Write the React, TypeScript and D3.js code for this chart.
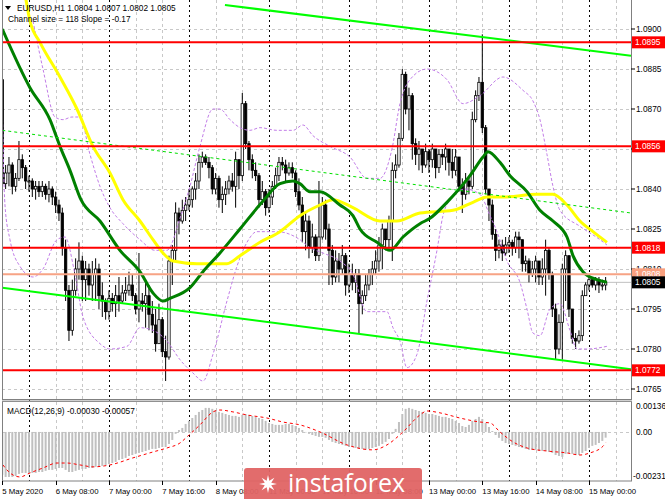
import React from "react";
import * as d3 from "d3";

type P = [number, number];

const FONT = "'Liberation Sans', Arial, sans-serif";

const priceTicks = [1.09, 1.0885, 1.087, 1.0855, 1.084, 1.0825, 1.081, 1.0795, 1.078, 1.0765];
const hiddenTickLabels = [1.0855];
const redLevels = [1.0895, 1.0856, 1.0818, 1.0772];
const orangeLevel = 1.0808;
const bidLevel = 1.0805;
const macdTickLabels = ["0.00136", "0.00", "-0.00231"];
const macdTickValues = [0.00136, 0, -0.00231];
const timeLabels = ["5 May 2020", "6 May 08:00", "7 May 00:00", "7 May 16:00", "8 May 08:00", "11 May 00:00", "11 May 16:00", "12 May 08:00", "13 May 00:00", "13 May 16:00", "14 May 08:00", "15 May 00:00"];
const timeLabelIdx = [0, 16, 32, 48, 64, 80, 96, 112, 128, 144, 160, 176];
const daySeparators = [8, 32, 56, 80, 104, 128, 152, 176];

const firstOpen = 1.0881;
const closes = [
  1.0842, 1.0846, 1.0849, 1.0841, 1.0844, 1.0851, 1.0848, 1.0843, 1.0843, 1.0840,
  1.0841, 1.0839, 1.0841, 1.0838, 1.0840, 1.0837, 1.0834, 1.0831, 1.0818, 1.0802,
  1.0787, 1.0802, 1.0810, 1.0813, 1.0806, 1.0810, 1.0804, 1.0808, 1.0810, 1.0800,
  1.0798, 1.0794, 1.0799, 1.0797, 1.0800, 1.0798, 1.0801, 1.0802, 1.0804, 1.0800,
  1.0795, 1.0798, 1.0797, 1.0800, 1.0793, 1.0789, 1.0782, 1.0791, 1.0779, 1.0777,
  1.0813, 1.0817, 1.0831, 1.0828, 1.0832, 1.0834, 1.0836, 1.0840, 1.0843, 1.0850,
  1.0852, 1.0850, 1.0848, 1.0840, 1.0844, 1.0836, 1.0838, 1.0840, 1.0843, 1.0841,
  1.0851, 1.0845, 1.0872, 1.0857, 1.0851, 1.0847, 1.0845, 1.0836, 1.0839, 1.0833,
  1.0837, 1.0841, 1.0845, 1.0850, 1.0849, 1.0846, 1.0848, 1.0846, 1.0839, 1.0834,
  1.0824, 1.0828, 1.0818, 1.0822, 1.0815, 1.0822, 1.0834, 1.0825, 1.0817, 1.0807,
  1.0813, 1.0810, 1.0815, 1.0804, 1.0808, 1.0805, 1.0808, 1.0797, 1.0800, 1.0804,
  1.0808, 1.0810, 1.0813, 1.0819, 1.0825, 1.0821, 1.0828, 1.0847, 1.0849, 1.0859,
  1.0883, 1.0870, 1.0875, 1.0857, 1.0853, 1.0855, 1.0849, 1.0854, 1.0851, 1.0855,
  1.0848, 1.0853, 1.0852, 1.0855, 1.0850, 1.0847, 1.0852, 1.0841, 1.0838, 1.0843,
  1.0841, 1.0866, 1.0875, 1.0880, 1.0863, 1.0840, 1.0834, 1.0823, 1.0817, 1.0819,
  1.0816, 1.0819, 1.0820, 1.0818, 1.0822, 1.0821, 1.0812, 1.0813, 1.0808, 1.0810,
  1.0813, 1.0807, 1.0810, 1.0817, 1.0808, 1.0795, 1.0780, 1.0790, 1.0810, 1.0815,
  1.0795, 1.0784, 1.0783, 1.0785, 1.0800, 1.0804, 1.0806, 1.0804, 1.0806, 1.0804,
  1.0804, 1.0805,
];
const highs = [
  1.0887, 1.0849, 1.0852, 1.0850, 1.0846, 1.0858, 1.0853, 1.0849, 1.0845, 1.0844,
  1.0843, 1.0843, 1.0843, 1.0842, 1.0843, 1.0841, 1.0839, 1.0836, 1.0833, 1.0821,
  1.0804, 1.0806, 1.0814, 1.0820, 1.0815, 1.0813, 1.0812, 1.0813, 1.0814, 1.0812,
  1.0805, 1.0799, 1.0802, 1.0801, 1.0804, 1.0807, 1.0804, 1.0807, 1.0809, 1.0808,
  1.0801, 1.0816, 1.0801, 1.0806, 1.0804, 1.0798, 1.0795, 1.0797, 1.0792, 1.0785,
  1.0815, 1.0819, 1.0835, 1.0833, 1.0836, 1.0837, 1.0840, 1.0841, 1.0846, 1.0853,
  1.0854, 1.0853, 1.0852, 1.0849, 1.0846, 1.0845, 1.0841, 1.0843, 1.0845, 1.0846,
  1.0854, 1.0849, 1.0876, 1.0873, 1.0858, 1.0853, 1.0850, 1.0846, 1.0843, 1.0840,
  1.0840, 1.0843, 1.0848, 1.0852, 1.0852, 1.0851, 1.0850, 1.0850, 1.0847, 1.0844,
  1.0837, 1.0831, 1.0830, 1.0827, 1.0823, 1.0843, 1.0837, 1.0836, 1.0827, 1.0819,
  1.0817, 1.0816, 1.0819, 1.0816, 1.0812, 1.0812, 1.0810, 1.0810, 1.0802, 1.0808,
  1.0810, 1.0813, 1.0817, 1.0822, 1.0827, 1.0825, 1.0830, 1.0850, 1.0853, 1.0861,
  1.0885, 1.0884, 1.0878, 1.0876, 1.0859, 1.0858, 1.0855, 1.0857, 1.0855, 1.0857,
  1.0855, 1.0855, 1.0855, 1.0857, 1.0855, 1.0855, 1.0855, 1.0852, 1.0844, 1.0846,
  1.0845, 1.0869, 1.0877, 1.0882, 1.0898, 1.0864, 1.0840, 1.0836, 1.0825, 1.0821,
  1.0821, 1.0822, 1.0822, 1.0821, 1.0824, 1.0824, 1.0821, 1.0815, 1.0814, 1.0813,
  1.0815, 1.0813, 1.0814, 1.0821, 1.0818, 1.0809, 1.0797, 1.0793, 1.0812, 1.0817,
  1.0813, 1.0795, 1.0786, 1.0787, 1.0802, 1.0805, 1.0807, 1.0807, 1.0807, 1.0807,
  1.0806, 1.0807,
];
const lows = [
  1.0840, 1.0840, 1.0841, 1.0838, 1.0839, 1.0843, 1.0844, 1.0840, 1.0839, 1.0837,
  1.0836, 1.0837, 1.0837, 1.0836, 1.0835, 1.0834, 1.0831, 1.0828, 1.0815, 1.0798,
  1.0783, 1.0785, 1.0800, 1.0806, 1.0798, 1.0798, 1.0800, 1.0798, 1.0798, 1.0795,
  1.0792, 1.0791, 1.0791, 1.0794, 1.0792, 1.0794, 1.0797, 1.0798, 1.0800, 1.0798,
  1.0793, 1.0790, 1.0794, 1.0788, 1.0787, 1.0786, 1.0779, 1.0782, 1.0777, 1.0768,
  1.0776, 1.0804, 1.0813, 1.0823, 1.0827, 1.0828, 1.0832, 1.0833, 1.0836, 1.0840,
  1.0848, 1.0849, 1.0844, 1.0838, 1.0838, 1.0833, 1.0831, 1.0834, 1.0838, 1.0839,
  1.0833, 1.0840, 1.0843, 1.0855, 1.0847, 1.0844, 1.0843, 1.0833, 1.0834, 1.0830,
  1.0831, 1.0834, 1.0840, 1.0843, 1.0847, 1.0843, 1.0845, 1.0844, 1.0837, 1.0832,
  1.0820, 1.0817, 1.0814, 1.0816, 1.0813, 1.0813, 1.0821, 1.0821, 1.0804, 1.0804,
  1.0805, 1.0805, 1.0808, 1.0800, 1.0801, 1.0802, 1.0801, 1.0786, 1.0793, 1.0798,
  1.0802, 1.0804, 1.0808, 1.0809, 1.0810, 1.0817, 1.0817, 1.0813, 1.0844, 1.0848,
  1.0858, 1.0868, 1.0862, 1.0851, 1.0849, 1.0847, 1.0846, 1.0848, 1.0846, 1.0848,
  1.0844, 1.0846, 1.0849, 1.0847, 1.0845, 1.0844, 1.0845, 1.0839, 1.0831, 1.0836,
  1.0838, 1.0840, 1.0865, 1.0873, 1.0861, 1.0838, 1.0828, 1.0821, 1.0813, 1.0814,
  1.0813, 1.0815, 1.0816, 1.0815, 1.0816, 1.0814, 1.0809, 1.0809, 1.0805, 1.0807,
  1.0805, 1.0804, 1.0804, 1.0800, 1.0806, 1.0792, 1.0776, 1.0778, 1.0776, 1.0798,
  1.0792, 1.0782, 1.0780, 1.0782, 1.0783, 1.0800, 1.0802, 1.0803, 1.0802, 1.0801,
  1.0802, 1.0802,
];

const macdHist = [
  -0.00225, -0.00236, -0.00236, -0.00236, -0.00231, -0.0022, -0.00215, -0.00215, -0.00215, -0.00215,
  -0.00215, -0.0021, -0.0021, -0.00204, -0.00199, -0.00199, -0.00194, -0.00189, -0.00189, -0.00199,
  -0.0021, -0.0021, -0.00204, -0.00199, -0.00194, -0.00194, -0.00189, -0.00189, -0.00183, -0.00183,
  -0.00178, -0.00173, -0.00168, -0.00163, -0.00157, -0.00147, -0.00142, -0.00136, -0.00126, -0.00121,
  -0.00115, -0.0011, -0.00105, -0.001, -0.00094, -0.00089, -0.00089, -0.00084, -0.00079, -0.00079,
  -0.00063, -0.00042, -0.0001, 0.0001, 0.00021, 0.00042, 0.00058, 0.00073, 0.00089, 0.00105,
  0.00115, 0.00126, 0.00126, 0.00121, 0.00115, 0.00105, 0.001, 0.00094, 0.00089, 0.00084,
  0.00084, 0.00079, 0.00089, 0.00094, 0.00089, 0.00084, 0.00079, 0.00073, 0.00068, 0.00058,
  0.00047, 0.00042, 0.00037, 0.00037, 0.00037, 0.00042, 0.00042, 0.00037, 0.00031, 0.00021,
  0.0001, 0.0, -0.0001, -0.00016, -0.00021, -0.00026, -0.00026, -0.00031, -0.00042, -0.00052,
  -0.00058, -0.00063, -0.00068, -0.00073, -0.00079, -0.00079, -0.00084, -0.00089, -0.00089, -0.00094,
  -0.00089, -0.00084, -0.00079, -0.00073, -0.00063, -0.00052, -0.00037, -0.0001, 0.00016, 0.00052,
  0.00094, 0.00121, 0.00126, 0.00121, 0.00115, 0.0011, 0.00105, 0.001, 0.00094, 0.00094,
  0.00089, 0.00084, 0.00079, 0.00079, 0.00073, 0.00068, 0.00058, 0.00047, 0.00031, 0.00026,
  0.00037, 0.00058, 0.00068, 0.00079, 0.00068, 0.00047, 0.00026, 0.00005, -0.00016, -0.00031,
  -0.00047, -0.00058, -0.00063, -0.00068, -0.00073, -0.00079, -0.00084, -0.00089, -0.00094, -0.00094,
  -0.00094, -0.001, -0.001, -0.001, -0.00105, -0.0011, -0.00121, -0.00126, -0.00131, -0.00115,
  -0.0011, -0.00115, -0.00121, -0.00121, -0.0011, -0.001, -0.00084, -0.00073, -0.00068, -0.00058,
  -0.00047, -0.0003,
];

const macdSignal: P[] = [
  [0.2, -0.00173], [2.3, -0.00215], [5.3, -0.00236], [8.3, -0.00215], [12.2, -0.00189], [16.4, -0.00163],
  [19.4, -0.00163], [23.3, -0.00173], [27.2, -0.00183], [32.3, -0.00173], [39.2, -0.00136], [45.2, -0.00105],
  [49.4, -0.00084], [53.3, -0.00058], [55.4, -0.00026], [59.3, 0.00037], [63.2, 0.00105], [65.3, 0.00115],
  [69.2, 0.00105], [73.4, 0.00089], [79.4, 0.00073], [84.2, 0.00052], [89.3, 0.00037], [95.3, 0.0],
  [103.4, -0.00068], [111.2, -0.00094], [115.4, -0.00068], [120.2, 0.0], [125.3, 0.00089], [127.4, 0.0011],
  [131.3, 0.001], [137.3, 0.00073], [143.3, 0.00052], [146.3, 0.00047], [149.3, 0.0], [153.2, -0.00052],
  [157.4, -0.00084], [163.4, -0.001], [169.4, -0.0011], [173.3, -0.00121], [176.3, -0.0011], [180.2, -0.00075],
  [181, -0.00057],
];

const greenMA: P[] = [
  [0, 1.09], [8.3, 1.0878], [14.3, 1.0866], [17.3, 1.0856], [20.3, 1.0847], [23.6, 1.0836], [29.3, 1.0828],
  [35.3, 1.0817], [41.3, 1.0809], [45.2, 1.0801], [48.2, 1.0798], [50.3, 1.0799], [56.3, 1.0803], [60.2, 1.0809],
  [65.3, 1.0816], [71.3, 1.0825], [77.9, 1.0835], [83.3, 1.0842], [87.2, 1.0843], [89.3, 1.0842], [92.3, 1.0839],
  [95.3, 1.0839], [101.3, 1.0834], [105.2, 1.083], [107.3, 1.0825], [112.4, 1.082], [116.3, 1.0817], [120.2, 1.0822],
  [125.3, 1.0827], [128.3, 1.0829], [133.4, 1.0835], [140.3, 1.0845], [144.2, 1.0852], [145.7, 1.0854],
  [149.3, 1.085], [152.3, 1.0845], [157.4, 1.0839], [161.3, 1.0832], [165.2, 1.0828], [169.4, 1.0822],
  [171.2, 1.0815], [174.2, 1.0809], [178.4, 1.0806], [181.4, 1.0805],
];

const yellowMA: P[] = [
  [7.1, 1.0911], [8.3, 1.0903], [11.3, 1.0895], [17.3, 1.0882], [22.4, 1.087], [27.2, 1.0856], [32.3, 1.0846],
  [36.2, 1.0836], [41.3, 1.0828], [45.2, 1.0821], [48.2, 1.0816], [51.2, 1.0813], [58.4, 1.0812], [67.4, 1.0812],
  [71.3, 1.0815], [77.3, 1.082], [83.3, 1.0824], [89.3, 1.083], [95.3, 1.0834], [99.2, 1.0836], [105.2, 1.0833],
  [113.3, 1.0828], [118.4, 1.0828], [125.3, 1.0831], [135.2, 1.0832], [141.2, 1.0835], [145.4, 1.0837],
  [150.2, 1.0837], [160.4, 1.0838], [165.2, 1.0838], [169.4, 1.0834], [173.3, 1.0828], [177.2, 1.0824],
  [181.4, 1.082],
];

const bandUpper: P[] = [
  [9.2, 1.0903], [12.2, 1.0885], [15.8, 1.0867], [18.2, 1.0866], [20.9, 1.0867], [23.3, 1.0867], [26.3, 1.0853],
  [29.3, 1.0841], [32.3, 1.0833], [36.2, 1.0827], [41.3, 1.0821], [45.8, 1.0817], [49.4, 1.0817], [53.3, 1.0829],
  [56.3, 1.0841], [59.3, 1.0856], [63.2, 1.087], [65.3, 1.087], [68.3, 1.0866], [71.3, 1.0863], [74.3, 1.0862],
  [77.3, 1.0863], [82.4, 1.0862], [87.2, 1.0862], [90.2, 1.0864], [93.2, 1.086], [98.3, 1.0856], [104.3, 1.0852],
  [109.4, 1.0844], [113.3, 1.0844], [116.9, 1.0855], [119.3, 1.0872], [122.3, 1.0881], [127.4, 1.0885],
  [133.4, 1.0881], [138.2, 1.0872], [143.3, 1.0875], [150.2, 1.0882], [156.2, 1.0877], [159.2, 1.0873],
  [161.3, 1.0866], [163.4, 1.0853], [165.2, 1.0841], [167.3, 1.0832], [173.3, 1.0826], [179.3, 1.0821],
  [181.4, 1.0819],
];

const bandLower: P[] = [
  [0, 1.087], [0.8, 1.0834], [2.3, 1.0821], [5.3, 1.0811], [9.2, 1.0807], [12.2, 1.081], [16.4, 1.0821],
  [18.8, 1.0822], [21.8, 1.0808], [24.2, 1.0792], [29.3, 1.0782], [32.3, 1.078], [37.4, 1.0781], [41.3, 1.0788],
  [45.2, 1.0787], [49.4, 1.0783], [53.3, 1.0776], [57.2, 1.0771], [60.2, 1.0768], [63.2, 1.0778], [67.4, 1.0798],
  [70.4, 1.0811], [73.4, 1.082], [76.4, 1.0824], [82.4, 1.0824], [89.3, 1.0821], [92.3, 1.0818], [96.2, 1.0816],
  [101.3, 1.0813], [105.2, 1.0808], [109.4, 1.0794], [115.4, 1.0794], [117.2, 1.0788], [119.3, 1.0783],
  [121.4, 1.0773], [124.4, 1.0778], [127.4, 1.0798], [130.4, 1.0817], [132.2, 1.083], [134.3, 1.0836],
  [138.8, 1.084], [143.3, 1.0838], [146.3, 1.083], [148.4, 1.0824], [151.4, 1.0813], [155.3, 1.0805],
  [157.4, 1.0795], [159.2, 1.0786], [161.3, 1.0785], [164.3, 1.0795], [167.3, 1.0797], [170.3, 1.0787],
  [172.4, 1.078], [175.4, 1.078], [181.4, 1.0781],
];

const channelUpper: P[] = [[66.8, 1.0909], [188.6, 1.089]];
const channelMid: P[] = [[0, 1.0862], [188.6, 1.0831]];
const channelLower: P[] = [[0, 1.0803], [188.6, 1.07724]];

export default function App() {
  const L = 2, R = 631, MAINB = 400, MT = 402, MB = 481;
  const step = 10 / 3;
  const x = d3.scaleLinear().domain([0, 189]).range([2.3, 2.3 + 189 * step]);
  const y = d3.scaleLinear().domain([1.0765, 1.09]).range([389, 29]);
  const ym = d3.scaleLinear().domain([-0.00231, 0.00136]).range([476, 406]);
  const smooth = d3.line<P>().x(d => x(d[0])).y(d => y(d[1])).curve(d3.curveMonotoneX);
  const straight = d3.line<P>().x(d => x(d[0])).y(d => y(d[1]));
  const sigLine = d3.line<P>().x(d => x(d[0])).y(d => ym(d[1])).curve(d3.curveMonotoneX);

  const bars = closes.map((c, i) => {
    const o = i === 0 ? firstOpen : closes[i - 1];
    return { i, o, c, h: Math.max(highs[i], o, c), l: Math.min(lows[i], o, c) };
  });
  const gridIdx = d3.range(0, 190, 8).filter(i => !daySeparators.includes(i));
  const bodyW = 2.4;

  const star = d3.range(16).map(k => {
    const r = k % 2 === 0 ? 9 : 3.5;
    const a = (k * Math.PI) / 8 - Math.PI / 2;
    return [268 + r * Math.cos(a), 484 + r * Math.sin(a)].join(",");
  }).join(" ");

  return (
    <svg width={665} height={499} style={{ position: "absolute", left: 0, top: 0, display: "block" }} fontFamily={FONT}>
      <defs>
        <clipPath id="mainClip"><rect x={L} y={0} width={R - L} height={MAINB} /></clipPath>
        <clipPath id="macdClip"><rect x={L} y={MT} width={R - L} height={MB - MT} /></clipPath>
      </defs>
      <rect x={0} y={0} width={665} height={499} fill="#fff" />

      {/* grid */}
      <g stroke="#c8c8c8" strokeWidth={1} strokeDasharray="3,3">
        {priceTicks.map(p => (
          <line key={"h" + p} x1={L} x2={R} y1={Math.round(y(p)) + 0.5} y2={Math.round(y(p)) + 0.5} />
        ))}
        {gridIdx.map(i => (
          <line key={"v" + i} x1={Math.round(x(i)) + 0.5} x2={Math.round(x(i)) + 0.5} y1={0} y2={MB} />
        ))}
        <line x1={L} x2={R} y1={Math.round(ym(0)) + 0.5} y2={Math.round(ym(0)) + 0.5} />
      </g>
      <g stroke="#000" strokeWidth={1} strokeDasharray="2,3">
        {daySeparators.map(i => (
          <line key={"s" + i} x1={Math.round(x(i)) + 0.5} x2={Math.round(x(i)) + 0.5} y1={0} y2={MB} />
        ))}
      </g>

      <g clipPath="url(#mainClip)">
        <line x1={L} x2={R} y1={y(bidLevel)} y2={y(bidLevel)} stroke="#c0c0c0" strokeWidth={1} />
        {bars.map(b => {
          const bull = b.c >= b.o;
          const top = y(Math.max(b.o, b.c));
          const bot = y(Math.min(b.o, b.c));
          const cx = x(b.i);
          return (
            <g key={"c" + b.i}>
              <line x1={cx} x2={cx} y1={y(b.h)} y2={y(b.l)} stroke="#000" strokeWidth={1} />
              <rect x={cx - bodyW / 2} y={top} width={bodyW} height={Math.max(bot - top, 1)}
                fill={bull ? "#fff" : "#000"} stroke="#000" strokeWidth={0.8} />
            </g>
          );
        })}
        <path d={smooth(bandUpper) || ""} fill="none" stroke="#c27ee8" strokeWidth={1} strokeDasharray="3,2" />
        <path d={smooth(bandLower) || ""} fill="none" stroke="#c27ee8" strokeWidth={1} strokeDasharray="3,2" />
        <path d={smooth(yellowMA) || ""} fill="none" stroke="#ffff00" strokeWidth={3} />
        <path d={smooth(greenMA) || ""} fill="none" stroke="#008000" strokeWidth={3} />
        <path d={straight(channelUpper) || ""} fill="none" stroke="#00ff00" strokeWidth={2} />
        <path d={straight(channelLower) || ""} fill="none" stroke="#00ff00" strokeWidth={2} />
        <path d={straight(channelMid) || ""} fill="none" stroke="#00e000" strokeWidth={1} strokeDasharray="3,3" />
        <line x1={L} x2={R} y1={y(orangeLevel)} y2={y(orangeLevel)} stroke="#f7a385" strokeWidth={2} />
        {redLevels.map(p => (
          <line key={"r" + p} x1={L} x2={R} y1={y(p)} y2={y(p)} stroke="#ff0000" strokeWidth={2} />
        ))}
      </g>

      {/* MACD */}
      <g clipPath="url(#macdClip)">
        {macdHist.map((v, i) => (
          <rect key={"m" + i} x={x(i) - 1} width={2} y={Math.min(ym(v), ym(0))}
            height={Math.max(Math.abs(ym(v) - ym(0)), 0.5)} fill="#c0c0c0" />
        ))}
        <path d={sigLine(macdSignal) || ""} fill="none" stroke="#ff0000" strokeWidth={1} strokeDasharray="3,3" />
      </g>

      {/* frames */}
      <rect x={L + 0.5} y={-1} width={R - L} height={MAINB + 0.5} fill="none" stroke="#808080" strokeWidth={1} />
      <rect x={L + 0.5} y={MT - 0.5} width={R - L} height={MB - MT + 0.5} fill="none" stroke="#808080" strokeWidth={1} />
      <line x1={L} x2={R + 1} y1={MAINB + 1} y2={MAINB + 1} stroke="#a0a0a0" strokeWidth={1} />

      {/* right price axis */}
      <g fontSize={8.3} fill="#000">
        {priceTicks.map(p => (
          <g key={"t" + p}>
            <line x1={R} x2={R + 4} y1={y(p)} y2={y(p)} stroke="#000" />
            {hiddenTickLabels.includes(p) ? null : <text x={636} y={y(p) + 3}>{p.toFixed(4)}</text>}
          </g>
        ))}
      </g>
      {redLevels.map(p => (
        <g key={"rl" + p}>
          <rect x={632} y={y(p) - 6} width={33} height={12} fill="#ff0000" />
          <text x={635} y={y(p) + 3} fontSize={8.3} fill="#fff">{p.toFixed(4)}</text>
        </g>
      ))}
      <rect x={632} y={y(orangeLevel) - 6} width={33} height={12} fill="#f9a07f" />
      <text x={635} y={y(orangeLevel) + 3} fontSize={8.3} fill="#fff">{orangeLevel.toFixed(4)}</text>
      <rect x={632} y={y(bidLevel) - 6} width={33} height={12} fill="#000" />
      <text x={635} y={y(bidLevel) + 3} fontSize={8.3} fill="#fff">{bidLevel.toFixed(4)}</text>

      {/* MACD axis */}
      <g fontSize={8.3} fill="#000">
        {macdTickValues.map((v, k) => (
          <text key={"mt" + k} x={v < 0 ? 633 : 636} y={ym(v) + 3}>{macdTickLabels[k]}</text>
        ))}
      </g>
      <text x={7} y={414} fontSize={8.3} fill="#000">MACD(12,26,9) -0.00030 -0.00057</text>

      {/* time axis */}
      <g fontSize={7.8} fill="#000">
        {timeLabelIdx.map((i, k) => (
          <g key={"tl" + i}>
            <line x1={Math.round(x(i)) + 0.5} x2={Math.round(x(i)) + 0.5} y1={MB} y2={MB + 4} stroke="#000" />
            <text x={x(i)} y={494}>{timeLabels[k]}</text>
          </g>
        ))}
      </g>

      {/* header */}
      <polygon points="5,6 11,6 8,10" fill="#000" />
      <text x={17} y={11} fontSize={8.3} fill="#000">EURUSD,H1  1.0804 1.0807 1.0802 1.0805</text>
      <text x={8} y={22} fontSize={8.3} fill="#000">Channel size = 118 Slope = -0.17</text>

      {/* watermark */}
      <rect x={244} y={468} width={178} height={40} rx={3} fill="#e06464" opacity={0.95} />
      <polygon points={star} fill="#fff" />
      <text x={288} y={492} fontSize={25} fill="#fff" fontFamily="'Open Sans', sans-serif">instaforex</text>
    </svg>
  );
}
